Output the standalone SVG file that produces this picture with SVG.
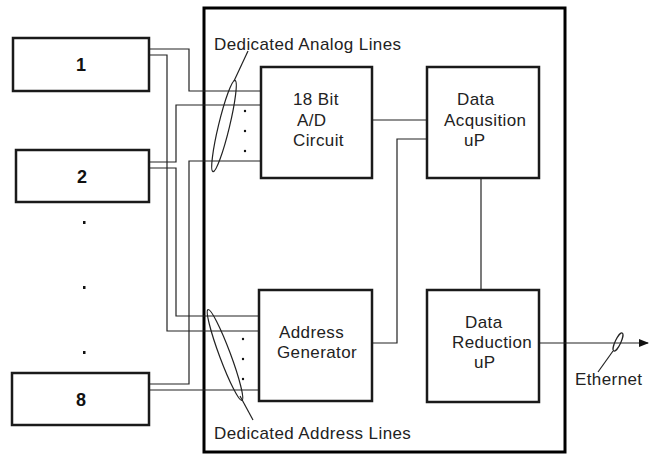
<svg xmlns="http://www.w3.org/2000/svg" width="650" height="454" viewBox="0 0 650 454">
<defs>
<style>
.box{fill:#fff;stroke:#1a1a1a;stroke-width:2.5}
.big{fill:none;stroke:#000;stroke-width:3}
.ln{fill:none;stroke:#222;stroke-width:1.2}
.t{font-family:"Liberation Sans",Arial,sans-serif;font-size:17px;fill:#222;letter-spacing:0.4px}
.b{font-family:"Liberation Sans",Arial,sans-serif;font-size:18px;font-weight:bold;fill:#111;text-anchor:middle}
.dot{fill:#111}
</style>
<marker id="arr" markerWidth="10" markerHeight="8" refX="9" refY="4" orient="auto" markerUnits="userSpaceOnUse">
<path d="M0,0 L10,4 L0,8 z" fill="#111"/>
</marker>
</defs>
<rect width="650" height="454" fill="#fff"/>
<g id="enclosure"><rect class="big" x="204" y="8" width="361" height="444"/></g>
<g id="connectors">
<polyline class="ln" points="149,49 189,49 189,91 260,91"/>
<polyline class="ln" points="149,55 167,55 167,331 260,331"/>
<polyline class="ln" points="149,162 176,162 176,105 260,105"/>
<polyline class="ln" points="149,168 176,168 176,316 260,316"/>
<polyline class="ln" points="149,384 189,384 189,161 260,161"/>
<polyline class="ln" points="149,390 260,390"/>
<polyline class="ln" points="372,120 427,120"/>
<polyline class="ln" points="372,343 397,343 397,139 427,139"/>
<polyline class="ln" points="481,178 481,290"/>
<polyline class="ln" points="539,343 648,343" marker-end="url(#arr)"/>
<ellipse class="ln" cx="224" cy="126" rx="47" ry="5.5" transform="rotate(-76.4 224 126)"/>
<line class="ln" x1="234" y1="81" x2="248" y2="51"/>
<ellipse class="ln" cx="225" cy="355" rx="48.5" ry="5.5" transform="rotate(69.5 225 355)"/>
<line class="ln" x1="240" y1="396" x2="253" y2="420"/>
<ellipse class="ln" cx="618" cy="342" rx="10" ry="2.8" transform="rotate(-65 618 342)"/>
<line class="ln" x1="613" y1="351" x2="598" y2="372"/>
<circle class="dot" cx="245" cy="111" r="1.2"/>
<circle class="dot" cx="245" cy="131" r="1.2"/>
<circle class="dot" cx="245" cy="151" r="1.2"/>
<circle class="dot" cx="243" cy="339" r="1.2"/>
<circle class="dot" cx="243" cy="359" r="1.2"/>
<circle class="dot" cx="243" cy="379" r="1.2"/>
</g>
<g id="n1"><rect class="box" x="13" y="38" width="136" height="53"/><text class="b" x="81" y="71">1</text></g>
<g id="n2"><rect class="box" x="16" y="150" width="133" height="52"/><text class="b" x="82" y="183">2</text></g>
<g id="dots"><rect class="dot" x="83" y="221" width="2.5" height="3"/><rect class="dot" x="83" y="286" width="2.5" height="3"/><rect class="dot" x="83" y="351" width="2.5" height="3"/></g>
<g id="n8"><rect class="box" x="12" y="373" width="137" height="52"/><text class="b" x="81" y="406">8</text></g>
<g id="ad"><rect class="box" x="261" y="67" width="111" height="111"/>
<text class="t" x="293" y="105">18 Bit</text><text class="t" x="297" y="126">A/D</text><text class="t" x="293" y="146">Circuit</text></g>
<g id="daq"><rect class="box" x="427" y="67" width="112" height="111"/>
<text class="t" x="457" y="105">Data</text><text class="t" x="444" y="126">Acqusition</text><text class="t" x="464" y="146">uP</text></g>
<g id="addr"><rect class="box" x="259" y="290" width="113" height="111"/>
<text class="t" x="279" y="338">Address</text><text class="t" x="277" y="358">Generator</text></g>
<g id="dred"><rect class="box" x="427" y="290" width="112" height="112"/>
<text class="t" x="465" y="328">Data</text><text class="t" x="452" y="348">Reduction</text><text class="t" x="474" y="368">uP</text></g>
<g id="labels">
<text class="t" x="214" y="50">Dedicated Analog Lines</text>
<text class="t" x="214" y="439">Dedicated Address Lines</text>
<text class="t" x="575" y="385">Ethernet</text>
</g>
</svg>
